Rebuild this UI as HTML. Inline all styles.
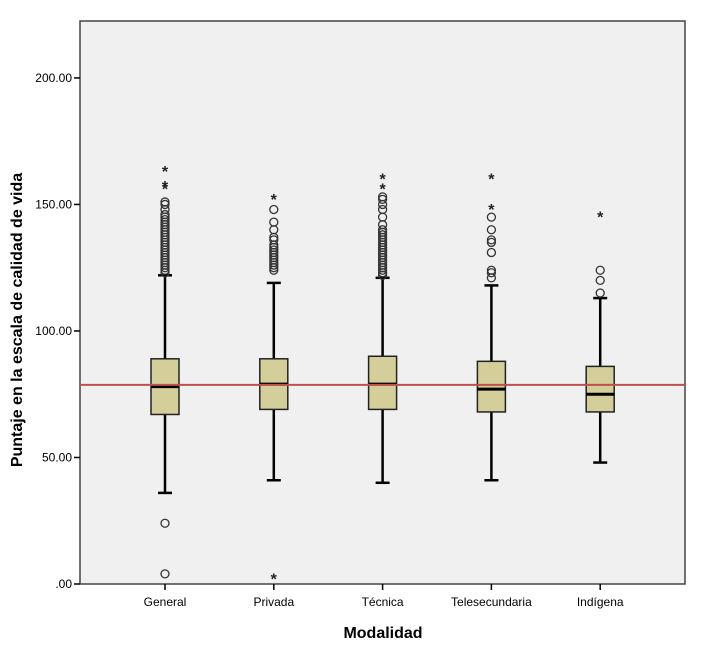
<!DOCTYPE html>
<html><head><meta charset="utf-8"><style>
body{margin:0;background:#fff;}
svg{display:block;font-family:"Liberation Sans",Arial,sans-serif;}
</style></head><body>
<svg id="chart" width="708" height="652"></svg>
<script>
const categories=["General","Privada","Técnica","Telesecundaria","Indígena"];
const q1=[67,69,69,68,68];
const medians=[78,79,79,77,75];
const q3=[89,89,90,88,86];
const whiskerLow=[36,41,40,41,48];
const whiskerHigh=[122,119,121,118,113];
const circleOutliers=[
 [4,24,123,124,125,126,127,128,129,130,131,132,133,134,135,136,137,138,139,140,141,142,143,144,145,146,148,150,151],
 [124,125,126,127,128,129,130,131,132,133,134,136,137,140,143,148],
 [122,123,124,125,126,127,128,129,130,131,132,133,134,135,136,137,138,139,140,142,145,148,150,152,153],
 [121,123,124,131,135,136,140,145],
 [115,120,124]
];
const starOutliers=[[157,158,164],[3,153],[157,161],[149,161],[146]];
const yTicks=[0,50,100,150,200];
const yTickLabels=[".00","50.00","100.00","150.00","200.00"];
const refLine=78.7;

const NS="http://www.w3.org/2000/svg";
const svg=document.getElementById('chart');
const L=80,R=685,T=21,B=584;
const y=v=>B-v*(B-T)/222.5;
const x=i=>165+i*108.8;
function el(tag,attrs,parent){const e=document.createElementNS(NS,tag);for(const k in attrs)e.setAttribute(k,attrs[k]);(parent||svg).appendChild(e);return e;}

const bg=el('rect',{x:L,y:T,width:R-L,height:B-T,fill:'#f0f0f0',stroke:'#444','stroke-width':1.5});



yTicks.forEach((v,i)=>{
 const t=el('line',{x1:L-6,x2:L,y1:y(v),y2:y(v),stroke:'#000','stroke-width':1.5});
 
 
 const tx=el('text',{x:L-8,y:y(v)+4,'text-anchor':'end','font-size':12,fill:'#000'});
 tx.textContent=yTickLabels[i];
 
 
});

categories.forEach((c,i)=>{
 const cx=x(i);
 const g=el('g',{});
 
 
 el('line',{x1:cx,x2:cx,y1:y(whiskerLow[i]),y2:y(q1[i]),stroke:'#000','stroke-width':2.5},g);
 el('line',{x1:cx,x2:cx,y1:y(q3[i]),y2:y(whiskerHigh[i]),stroke:'#000','stroke-width':2.5},g);
 el('line',{x1:cx-7,x2:cx+7,y1:y(whiskerLow[i]),y2:y(whiskerLow[i]),stroke:'#000','stroke-width':2.5},g);
 el('line',{x1:cx-7,x2:cx+7,y1:y(whiskerHigh[i]),y2:y(whiskerHigh[i]),stroke:'#000','stroke-width':2.5},g);
 el('rect',{x:cx-14,y:y(q3[i]),width:28,height:y(q1[i])-y(q3[i]),fill:'#d4cf9a',stroke:'#222','stroke-width':1.5},g);
 el('line',{x1:cx-14,x2:cx+14,y1:y(medians[i]),y2:y(medians[i]),stroke:'#000','stroke-width':3},g);
 circleOutliers[i].forEach(v=>{
  const o=el('circle',{cx:cx,cy:y(v),r:4,fill:'none',stroke:'#333','stroke-width':1.3});
  
  
 });
 starOutliers[i].forEach(v=>{
  const s=el('text',{x:cx,y:y(v)+8,'text-anchor':'middle','font-size':16,'font-weight':'bold',fill:'#222'});
  s.textContent='*';
  
  
 });
 const tk=el('line',{x1:cx,x2:cx,y1:B,y2:B+6,stroke:'#000','stroke-width':1.5});
 
 
 const lb=el('text',{x:cx,y:B+22,'text-anchor':'middle','font-size':12,fill:'#000'});
 lb.textContent=c;
 
 
});

const rl=el('line',{x1:L,x2:R,y1:y(refLine),y2:y(refLine),stroke:'#c0504d','stroke-width':2});



const xt=el('text',{x:383,y:638,'text-anchor':'middle','font-size':16,'font-weight':'bold',fill:'#000'});
xt.textContent='Modalidad';


const yt=el('text',{x:0,y:0,'text-anchor':'middle','font-size':16,'font-weight':'bold',fill:'#000',transform:'translate(22,320) rotate(-90)'});
yt.textContent='Puntaje en la escala de calidad de vida';


</script>
</body></html>
